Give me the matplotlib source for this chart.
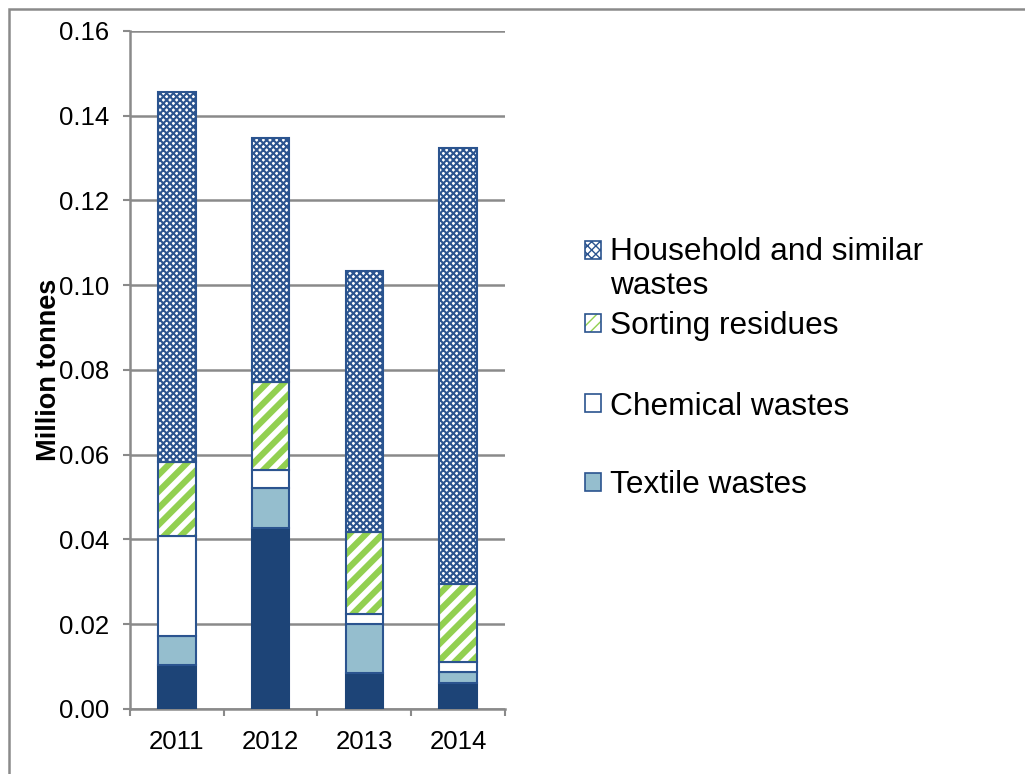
import matplotlib
matplotlib.use("Agg")
import matplotlib.pyplot as plt
from matplotlib.patches import Patch, Rectangle
from matplotlib.legend_handler import HandlerPatch
import numpy as np

plt.rcParams['font.family'] = ['Liberation Sans', 'DejaVu Sans']

# data (million tonnes)
years = ["2011", "2012", "2013", "2014"]
other_wastes = [0.0104, 0.0428, 0.0084, 0.0062]      # dark blue, not in legend
textile_wastes = [0.0068, 0.0094, 0.0117, 0.0026]
chemical_wastes = [0.0237, 0.0043, 0.0024, 0.0024]
sorting_residues = [0.0173, 0.0207, 0.0192, 0.0183]
household_wastes = [0.0874, 0.0575, 0.0616, 0.1029]

dark_blue = "#1d4477"
light_blue = "#95bece"
edge_blue = "#2b548f"
green = "#92d050"
grey = "#8a8a8a"

fig = plt.figure(figsize=(10.25, 7.74), dpi=100)
ax = fig.add_axes([0.1268, 0.084, 0.3659, 0.876])

x = np.arange(len(years))
w = 0.4
lw = 1.5

bottom = np.zeros(len(years))
ax.bar(x, other_wastes, w, bottom=bottom, color=dark_blue, edgecolor=dark_blue,
       linewidth=lw, zorder=3)
bottom += other_wastes
ax.bar(x, textile_wastes, w, bottom=bottom, color=light_blue, edgecolor=edge_blue,
       linewidth=lw, zorder=3)
bottom += textile_wastes
ax.bar(x, chemical_wastes, w, bottom=bottom, color="white", edgecolor=edge_blue,
       linewidth=lw, zorder=3)
bottom += chemical_wastes

# green stripes need their own colour, outline drawn on top
with plt.rc_context({"hatch.linewidth": 4.5}):
    ax.bar(x, sorting_residues, w, bottom=bottom, color="white", edgecolor=green,
           hatch="//", linewidth=0, zorder=3)
ax.bar(x, sorting_residues, w, bottom=bottom, fill=False, edgecolor=edge_blue,
       linewidth=lw, zorder=4)
bottom += sorting_residues

with plt.rc_context({"hatch.linewidth": 1.5}):
    ax.bar(x, household_wastes, w, bottom=bottom, color="white", edgecolor=edge_blue,
           hatch="xxxxx", linewidth=lw, zorder=3)

# axes styling
ax.set_xlim(-0.5, len(years) - 0.5)
ax.set_ylim(0, 0.16)
ax.set_yticks(np.arange(0, 0.161, 0.02))
ax.yaxis.set_major_formatter(matplotlib.ticker.FormatStrFormatter("%.2f"))
ax.set_xticks(x)
ax.set_xticklabels(years)
ax.set_xticks(np.arange(-0.5, len(years)), minor=True)
ax.grid(axis="y", color=grey, linewidth=1.8, zorder=0)
ax.set_axisbelow(True)
for s in ["top", "right"]:
    ax.spines[s].set_visible(False)
for s in ["left", "bottom"]:
    ax.spines[s].set_color(grey)
    ax.spines[s].set_linewidth(1.8)
ax.tick_params(axis="y", length=5, width=1.5, color=grey, pad=10, labelsize=18.5)
ax.tick_params(axis="x", which="major", length=0, pad=15, labelsize=18.5)
ax.tick_params(axis="x", which="minor", length=5, width=1.5, color=grey)

ax.set_ylabel("Million tonnes", fontsize=19.5, fontweight="bold")
ax.yaxis.set_label_coords(-0.18, 0.5)


# household handle sits next to the first line of its two-line label
def upper_square(legend, orig_handle, xdescent, ydescent, width, height, fontsize):
    return Rectangle((-xdescent, -ydescent + 0.62 * fontsize), width, height)


# legend, two blocks to get the uneven spacing
with plt.rc_context({"hatch.linewidth": 1.0}):
    hh = Patch(facecolor="white", edgecolor=edge_blue, hatch="xxxx", linewidth=1.2)
with plt.rc_context({"hatch.linewidth": 3.0}):
    sr_fill = Patch(facecolor="white", edgecolor=green, hatch="///", linewidth=0)
sr = (sr_fill, Patch(fill=False, edgecolor=edge_blue, linewidth=1.2))
ch = Patch(facecolor="white", edgecolor=edge_blue, linewidth=1.2)
tx = Patch(facecolor=light_blue, edgecolor=edge_blue, linewidth=1.2)

leg_kw = dict(frameon=False, fontsize=22.8, handlelength=0.5, handleheight=0.5,
              handletextpad=0.28, borderpad=0, borderaxespad=0)
leg1 = fig.legend([hh, sr], ["Household and similar\nwastes", "Sorting residues"],
                  loc="upper left", bbox_to_anchor=(0.571, 0.694),
                  labelspacing=0.3, handler_map={hh: HandlerPatch(patch_func=upper_square)},
                  **leg_kw)
leg2 = fig.legend([ch, tx], ["Chemical wastes", "Textile wastes"],
                  loc="upper left", bbox_to_anchor=(0.571, 0.494),
                  labelspacing=1.53, **leg_kw)

# outer border of the chart area
fig.patches.append(Rectangle((9 / 1025, -0.05), 1.1, 1.05 - 9 / 774,
                             transform=fig.transFigure, fill=False,
                             edgecolor=grey, linewidth=1.8))

fig.savefig("out.png", dpi=100)
